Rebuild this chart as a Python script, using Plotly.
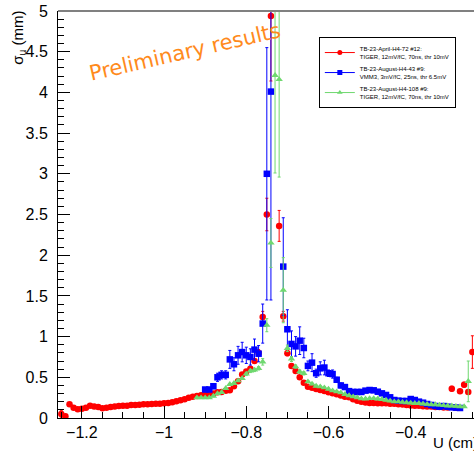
import plotly.graph_objects as go

# ---------------- data ----------------
red_u = [-1.25, -1.24, -1.23, -1.22, -1.21, -1.20, -1.19, -1.18, -1.17, -1.16, -1.15, -1.14, -1.13, -1.12,
         -1.11, -1.10, -1.09, -1.08, -1.07, -1.06, -1.05, -1.04, -1.03, -1.02, -1.01, -1.00, -0.99, -0.98,
         -0.97, -0.96, -0.95, -0.94, -0.93, -0.92, -0.91, -0.90, -0.89, -0.88, -0.87, -0.86, -0.85, -0.84,
         -0.83, -0.82, -0.81, -0.80, -0.79, -0.78, -0.77, -0.76, -0.75, -0.74, -0.72, -0.71, -0.70, -0.69,
         -0.68, -0.67, -0.66, -0.65, -0.64, -0.63, -0.62, -0.61, -0.60, -0.59, -0.58, -0.57, -0.56, -0.55,
         -0.54, -0.53, -0.52, -0.51, -0.50, -0.49, -0.48, -0.47, -0.46, -0.45, -0.44, -0.43, -0.42, -0.41,
         -0.40, -0.39, -0.38, -0.37, -0.36, -0.35, -0.34, -0.33, -0.32, -0.31, -0.30, -0.29, -0.28, -0.27,
         -0.26, -0.25]
red_s = [0.05, 0.02, 0.17, 0.127, 0.107, 0.115, 0.127, 0.15, 0.14, 0.135, 0.12, 0.127, 0.135, 0.14,
         0.147, 0.15, 0.15, 0.16, 0.16, 0.164, 0.168, 0.168, 0.172, 0.176, 0.176, 0.18, 0.184, 0.193,
         0.205, 0.217, 0.23, 0.25, 0.26, 0.27, 0.28, 0.29, 0.295, 0.30, 0.315, 0.32, 0.335, 0.34,
         0.39, 0.45, 0.535, 0.57, 0.605, 0.70, 0.80, 1.24, 2.5, 4.94, 2.36, 1.25, 0.795, 0.639,
         0.577, 0.50, 0.434, 0.385, 0.373, 0.356, 0.344, 0.332, 0.315, 0.303, 0.291, 0.275, 0.262, 0.254,
         0.229, 0.213, 0.20, 0.19, 0.185, 0.185, 0.18, 0.18, 0.18, 0.175, 0.175, 0.17, 0.165, 0.16,
         0.155, 0.15, 0.15, 0.145, 0.14, 0.14, 0.135, 0.135, 0.13, 0.13, 0.36, 0.125, 0.33, 0.41,
         0.32, 0.81]
red_e = [0.04, 0.02, 0.01, 0.01, 0.01, 0.01, 0.01, 0.01, 0.01, 0.01, 0.01, 0.01, 0.01, 0.01,
         0.01, 0.01, 0.01, 0.01, 0.01, 0.01, 0.01, 0.01, 0.01, 0.01, 0.01, 0.01, 0.01, 0.01,
         0.01, 0.01, 0.01, 0.01, 0.01, 0.01, 0.01, 0.01, 0.01, 0.01, 0.01, 0.01, 0.01, 0.01,
         0.01, 0.01, 0.02, 0.02, 0.02, 0.03, 0.04, 0.07, 0.2, 0.8, 0.19, 0.06, 0.03, 0.02,
         0.02, 0.02, 0.01, 0.01, 0.01, 0.01, 0.01, 0.01, 0.01, 0.01, 0.01, 0.01, 0.01, 0.01,
         0.01, 0.01, 0.01, 0.01, 0.01, 0.01, 0.01, 0.01, 0.01, 0.01, 0.01, 0.01, 0.01, 0.01,
         0.01, 0.01, 0.01, 0.01, 0.01, 0.01, 0.01, 0.01, 0.01, 0.01, 0.03, 0.01, 0.02, 0.03,
         0.02, 0.2]

blue_u = [-0.90, -0.89, -0.88, -0.87, -0.86, -0.85, -0.84, -0.83, -0.82, -0.81, -0.80, -0.79, -0.78,
          -0.77, -0.76, -0.75, -0.74, -0.71, -0.70, -0.69, -0.68, -0.67, -0.66, -0.65, -0.64, -0.63,
          -0.62, -0.61, -0.60, -0.59, -0.58, -0.57, -0.56, -0.55, -0.54, -0.53, -0.52, -0.51, -0.50,
          -0.49, -0.48, -0.47, -0.46, -0.45, -0.44, -0.43, -0.42, -0.41, -0.40, -0.39, -0.38, -0.37,
          -0.36, -0.35, -0.34, -0.33, -0.32, -0.31, -0.30, -0.29, -0.28]
blue_s = [0.35, 0.35, 0.39, 0.50, 0.53, 0.53, 0.72, 0.66, 0.77, 0.81, 0.77, 0.75, 0.84,
          0.79, 1.16, 3.0, 4.01, 1.86, 1.09, 0.91, 0.88, 0.95, 0.86, 0.64, 0.68, 0.55,
          0.61, 0.62, 0.55, 0.54, 0.47, 0.40, 0.38, 0.33, 0.32, 0.32, 0.32, 0.336, 0.344,
          0.34, 0.323, 0.303, 0.283, 0.254, 0.221, 0.213, 0.209, 0.209, 0.233, 0.221, 0.201, 0.188,
          0.172, 0.16, 0.147, 0.139, 0.147, 0.139, 0.131, 0.127, 0.123]
blue_e = [0.02, 0.02, 0.03, 0.05, 0.05, 0.05, 0.11, 0.08, 0.11, 0.12, 0.1, 0.1, 0.13,
          0.1, 0.24, 1.55, 2.56, 0.6, 0.24, 0.16, 0.12, 0.17, 0.12, 0.06, 0.11, 0.05,
          0.08, 0.09, 0.04, 0.05, 0.03, 0.03, 0.02, 0.02, 0.02, 0.02, 0.02, 0.02, 0.02,
          0.02, 0.02, 0.02, 0.02, 0.02, 0.02, 0.02, 0.02, 0.02, 0.02, 0.02, 0.01, 0.01,
          0.01, 0.01, 0.01, 0.01, 0.01, 0.01, 0.01, 0.01, 0.01]

green_u = [-0.92, -0.91, -0.90, -0.89, -0.88, -0.87, -0.86, -0.85, -0.84, -0.83, -0.82, -0.81, -0.80,
           -0.79, -0.78, -0.77, -0.76, -0.75, -0.74, -0.73, -0.72, -0.71, -0.70, -0.69, -0.68, -0.67,
           -0.66, -0.65, -0.64, -0.63, -0.62, -0.61, -0.60, -0.59, -0.58, -0.57, -0.56, -0.55, -0.54,
           -0.53, -0.52, -0.51, -0.50, -0.49, -0.48, -0.47, -0.46, -0.45, -0.44, -0.43, -0.42, -0.41,
           -0.40, -0.39, -0.38, -0.37, -0.36, -0.35, -0.34, -0.33, -0.32, -0.31, -0.30, -0.29, -0.28,
           -0.27, -0.26]
green_s = [0.25, 0.25, 0.25, 0.25, 0.27, 0.30, 0.315, 0.365, 0.414, 0.426, 0.459, 0.487, 0.541,
           0.578, 0.59, 0.61, 0.69, 1.14, 2.15, 4.21, 4.16, 1.57, 0.856, 0.725, 0.631, 0.569,
           0.549, 0.446, 0.418, 0.393, 0.385, 0.373, 0.356, 0.336, 0.324, 0.311, 0.291, 0.275, 0.262,
           0.25, 0.237, 0.235, 0.24, 0.24, 0.235, 0.23, 0.22, 0.21, 0.20, 0.20, 0.195, 0.19,
           0.185, 0.18, 0.18, 0.175, 0.17, 0.165, 0.165, 0.16, 0.155, 0.15, 0.15, 0.145, 0.14,
           0.14, 0.45]
green_e = [0.01, 0.01, 0.01, 0.01, 0.01, 0.01, 0.01, 0.01, 0.01, 0.01, 0.01, 0.01, 0.02,
           0.02, 0.02, 0.02, 0.04, 0.08, 0.3, 1.2, 1.2, 0.4, 0.04, 0.03, 0.02, 0.02,
           0.02, 0.01, 0.01, 0.01, 0.01, 0.01, 0.01, 0.01, 0.01, 0.01, 0.01, 0.01, 0.01,
           0.01, 0.01, 0.01, 0.01, 0.01, 0.01, 0.01, 0.01, 0.01, 0.01, 0.01, 0.01, 0.01,
           0.01, 0.01, 0.01, 0.01, 0.01, 0.01, 0.01, 0.01, 0.01, 0.01, 0.01, 0.01, 0.01,
           0.01, 0.25]

names = ["TB-23-April-H4-72 #12:<br>TIGER, 12mV/fC, 70ns, thr 10mV",
         "TB-23-August-H4-43 #9:<br>VMM3, 3mV/fC, 25ns, thr 6.5mV",
         "TB-23-August-H4-108 #9:<br>TIGER, 12mV/fC, 70ns, thr 10mV"]

RED = "#ff0000"
BLUE = "#0000ff"
GREEN = "#6fd86f"

series = [
    (red_u, red_s, red_e, RED, "circle", 6.5),
    (blue_u, blue_s, blue_e, BLUE, "square", 6.5),
    (green_u, green_s, green_e, GREEN, "triangle-up", 6.5),
]

fig = go.Figure()
for i, (u, s, e, col, sym, sz) in enumerate(series):
    fig.add_trace(go.Scatter(
        x=u, y=s, mode="markers",
        marker=dict(color=col, symbol=sym, size=sz, line=dict(width=0)),
        error_y=dict(type="data", array=e, color=col, thickness=1, width=1.5),
        showlegend=False, cliponaxis=True,
    ))
for i, (u, s, e, col, sym, sz) in enumerate(series):
    fig.add_trace(go.Scatter(
        x=[None], y=[None], mode="lines+markers", name=names[i],
        line=dict(color=col, width=1),
        marker=dict(color=col, symbol=sym, size=5),
        legendgroup="g%d" % i, showlegend=True,
    ))

FONT = "Liberation Sans, Arial, sans-serif"

fig.update_layout(
    width=474, height=453,
    margin=dict(l=58, r=0, t=11, b=35),
    paper_bgcolor="white", plot_bgcolor="white",
    font=dict(family=FONT, color="black"),
    showlegend=True,
    legend=dict(
        x=0.627, y=0.936, xanchor="left", yanchor="top",
        bgcolor="white", bordercolor="black", borderwidth=1,
        font=dict(size=6, family=FONT),
        traceorder="grouped", tracegroupgap=1,
        itemwidth=30,
    ),
    xaxis=dict(
        range=[-1.258, -0.246], dtick=0.2, tick0=0,
        ticks="inside", ticklen=12, tickwidth=1, tickcolor="black",
        showline=True, linecolor="black", linewidth=1,
        showgrid=False, zeroline=False,
        tickfont=dict(size=16, family=FONT),
        minor=dict(dtick=0.05, ticks="inside", ticklen=6, tickcolor="black", showgrid=False),
    ),
    yaxis=dict(
        range=[0, 5], dtick=0.5, tick0=0,
        ticks="inside", ticklen=12, tickwidth=1, tickcolor="black",
        showline=True, linecolor="black", linewidth=1,
        showgrid=False, zeroline=False,
        tickfont=dict(size=16, family=FONT),
        ticklabelstandoff=6,
        minor=dict(dtick=0.1, ticks="inside", ticklen=6, tickcolor="black", showgrid=False),
    ),
    shapes=[dict(type="line", xref="paper", yref="paper", x0=0, x1=1, y0=1, y1=1,
                 line=dict(color="#808080", width=2))],
    annotations=[
        dict(text="Preliminary results", xref="paper", yref="paper", x=0.305, y=0.9,
             xanchor="center", yanchor="middle", showarrow=False, textangle=-13,
             font=dict(size=21, color="#ff8a1c", family="DejaVu Sans, sans-serif")),
        dict(text="σ<sub>u</sub> (mm)", xref="paper", yref="paper", x=-0.094, y=0.934,
             xanchor="center", yanchor="middle", showarrow=False, textangle=-90,
             font=dict(size=15, family=FONT)),
        dict(text="U (cm)", xref="paper", yref="paper", x=0.897, y=-0.061,
             xanchor="left", yanchor="middle", showarrow=False,
             font=dict(size=15, family=FONT)),
    ],
)

fig.write_html("out.html")
